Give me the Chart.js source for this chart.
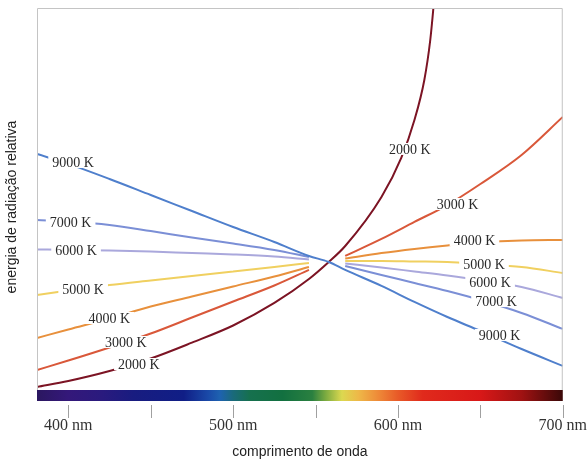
<!DOCTYPE html>
<html>
<head>
<meta charset="utf-8">
<script src="https://cdn.jsdelivr.net/npm/chart.js@4.4.0/dist/chart.umd.min.js"></script>
<style>
  body { margin: 0; background: #fff; }
</style>
</head>
<body>
<canvas id="chart" width="587" height="463"></canvas>
<script>
// wavelengths (nm) shared by most curves, null = gap round the crossing point
const wavelengths = [381, 400, 425, 450, 475, 500, 525, 546, 558, 568, 590, 610, 630, 650, 675, 700];
const k9000 = [1.844, 1.766, 1.648, 1.523, 1.398, 1.273, 1.156, 1.047, 1.0, 0.938, 0.813, 0.688, 0.570, 0.461, 0.320, 0.188];
const k7000 = [1.328, 1.316, 1.289, 1.242, 1.191, 1.145, 1.094, 1.039, null, 0.969, 0.898, 0.836, 0.773, 0.703, 0.602, 0.477];
const k6000 = [1.098, 1.094, 1.090, 1.082, 1.070, 1.059, 1.043, 1.020, null, 0.988, 0.957, 0.926, 0.895, 0.859, 0.805, 0.719];
const k5000 = [0.742, 0.777, 0.820, 0.856, 0.891, 0.926, 0.961, 0.992, null, 1.008, 1.008, 1.004, 1.000, 0.984, 0.961, 0.914];
const k4000 = [0.406, 0.473, 0.559, 0.652, 0.730, 0.809, 0.887, 0.961, null, 1.027, 1.070, 1.102, 1.129, 1.152, 1.168, 1.172];
const k3000 = [0.156, 0.230, 0.332, 0.441, 0.566, 0.691, 0.816, 0.938, null, 1.047, 1.180, 1.313, 1.445, 1.609, 1.836, 2.133];
// 2000 K leaves the top of the plot, so it has its own wavelengths
const wl2000 = [381, 400, 425, 450, 475, 500, 525, 546, 558, 568, 590, 602, 610, 616, 619.6, 621.5, 623.5];
const k2000 = [0.023, 0.070, 0.148, 0.246, 0.370, 0.504, 0.680, 0.867, 1.0, 1.125, 1.508, 1.813, 2.109, 2.422, 2.734, 2.984, 3.3];

const xTicks = [400, 450, 500, 550, 600, 650, 700];

// inline curve labels: text, wavelength, value
const curveLabels = [
  ['9000 K', 402.9, 1.781], ['7000 K', 401.4, 1.3125], ['6000 K', 404.7, 1.094],
  ['5000 K', 409, 0.789], ['4000 K', 424.8, 0.5625], ['3000 K', 434.9, 0.375],
  ['2000 K', 442.8, 0.203],
  ['2000 K', 607.2, 1.883], ['3000 K', 636.1, 1.453], ['4000 K', 646.4, 1.172],
  ['5000 K', 652.2, 0.984], ['6000 K', 655.9, 0.844], ['7000 K', 659.5, 0.695],
  ['9000 K', 661.7, 0.430]
];

// spectrum bar colour stops by wavelength
const spectrumStops = [
  [381, '#2b1760'], [400, '#34187a'], [420, '#2a1a7e'], [440, '#181c80'], [470, '#101e86'],
  [485, '#1a4aa8'], [492, '#1e62b0'], [500, '#1a6a7a'], [510, '#16704e'], [530, '#127040'],
  [548, '#2a8040'], [556, '#7aaa40'], [566, '#dcd850'], [576, '#eeb848'], [588, '#ee8a38'],
  [600, '#e85a28'], [615, '#e02a1c'], [650, '#d81818'], [675, '#a01212'], [700, '#3a0808']
];

const toPoints = (xs, ys) => xs.map((x, i) => ({ x: x, y: ys[i] }));

function series(label, xs, ys, color) {
  return {
    label: label,
    data: toPoints(xs, ys),
    borderColor: color,
    borderWidth: 2,
    pointRadius: 0,
    fill: false,
    spanGaps: false,
    cubicInterpolationMode: 'monotone'
  };
}

const decorations = {
  id: 'decorations',
  afterDatasetsDraw(chart) {
    const ctx = chart.ctx;
    const x = chart.scales.x, y = chart.scales.y;
    ctx.save();
    ctx.font = '14px "Liberation Serif", serif';
    ctx.textAlign = 'center';
    ctx.textBaseline = 'middle';
    curveLabels.forEach(([text, wl, v]) => {
      const px = x.getPixelForValue(wl), py = y.getPixelForValue(v);
      const w = ctx.measureText(text).width;
      ctx.fillStyle = '#fff';
      ctx.fillRect(px - w / 2 - 4, py - 6, w + 8, 12);
      ctx.fillStyle = '#2a2a2a';
      ctx.fillText(text, px, py + 1);
    });
    ctx.restore();
  },
  afterDraw(chart) {
    const ctx = chart.ctx;
    const area = chart.chartArea;
    const x = chart.scales.x;
    ctx.save();
    // frame
    ctx.strokeStyle = '#c4c4c4';
    ctx.lineWidth = 1;
    ctx.beginPath();
    ctx.moveTo(area.left + 0.5, area.bottom);
    ctx.lineTo(area.left + 0.5, area.top + 0.5);
    ctx.lineTo(area.right - 0.5, area.top + 0.5);
    ctx.lineTo(area.right - 0.5, area.bottom);
    ctx.stroke();
    // spectrum bar
    const grad = ctx.createLinearGradient(area.left, 0, area.right, 0);
    spectrumStops.forEach(([wl, c]) => {
      grad.addColorStop((x.getPixelForValue(wl) - area.left) / (area.right - area.left), c);
    });
    ctx.fillStyle = grad;
    ctx.fillRect(area.left, area.bottom, area.right - area.left, 11);
    // tick marks under the bar
    ctx.strokeStyle = '#a0a0a0';
    xTicks.forEach(t => {
      const px = Math.round(x.getPixelForValue(t)) + 0.5;
      ctx.beginPath();
      ctx.moveTo(px, area.bottom + 15);
      ctx.lineTo(px, area.bottom + 28);
      ctx.stroke();
    });
    // y title
    ctx.translate(12, 207);
    ctx.rotate(-Math.PI / 2);
    ctx.font = '14px "Liberation Sans", sans-serif';
    ctx.fillStyle = '#222';
    ctx.textAlign = 'center';
    ctx.textBaseline = 'middle';
    ctx.fillText('energia de radiação relativa', 0, 0);
    ctx.restore();
  }
};

new Chart(document.getElementById('chart').getContext('2d'), {
  type: 'line',
  data: {
    datasets: [
      series('9000 K', wavelengths, k9000, '#4f7fcc'),
      series('7000 K', wavelengths, k7000, '#7b8fd6'),
      series('6000 K', wavelengths, k6000, '#aaa8dc'),
      series('5000 K', wavelengths, k5000, '#f0d060'),
      series('4000 K', wavelengths, k4000, '#e8903c'),
      series('3000 K', wavelengths, k3000, '#d9583a'),
      series('2000 K', wl2000, k2000, '#7c1424')
    ]
  },
  options: {
    responsive: false,
    animation: false,
    layout: { padding: { left: 37, top: 8, right: 0, bottom: 0 } },
    plugins: { legend: { display: false }, tooltip: { enabled: false } },
    scales: {
      x: {
        type: 'linear',
        min: 381,
        max: 700,
        afterBuildTicks: (axis) => { axis.ticks = xTicks.map(v => ({ value: v })); },
        // grid hidden, tick length only used as spacing under the spectrum bar
        grid: { display: false, drawTicks: true, tickLength: 26 },
        border: { display: false },
        ticks: {
          autoSkip: false,
          maxRotation: 0,
          padding: 0,
          color: '#333',
          font: { family: '"Liberation Serif", serif', size: 16 },
          callback: (v) => (v % 100 === 0 ? v + ' nm' : '')
        },
        title: {
          display: true,
          text: 'comprimento de onda',
          color: '#222',
          font: { family: '"Liberation Sans", sans-serif', size: 14 },
          padding: { top: 9, bottom: 2 }
        }
      },
      y: {
        display: false,
        min: 0,
        max: 2.984
      }
    }
  },
  plugins: [decorations]
});
</script>
</body>
</html>
